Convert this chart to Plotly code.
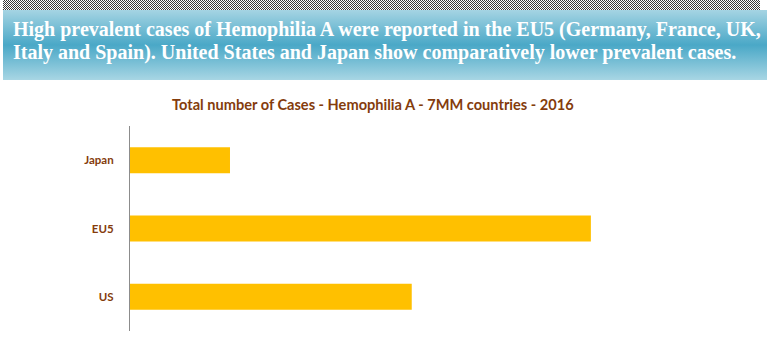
import base64
import plotly.graph_objects as go

# Hemophilia A total cases, 7MM, 2016
countries = ["US", "EU5", "Japan"]
cases = [17300, 28300, 6140]

header_lines = [
    "High prevalent cases of Hemophilia A were reported in the EU5 (Germany, France, UK,",
    "Italy and Spain). United States and Japan show comparatively lower prevalent cases.",
]
chart_title = "Total number of Cases - Hemophilia A - 7MM countries - 2016"

W, H = 771, 345
ML, MR, MT, MB = 130, 71, 126, 14
PW, PH = W - ML - MR, H - MT - MB

BROWN = "#843C0C"
BAR = "#FFC000"


def px_x(px):
    return (px - ML) / PW


def px_y(py):
    return (H - MB - py) / PH


# Banner graphic: dithered strip on top of a teal gradient box
svg = f"""<svg xmlns='http://www.w3.org/2000/svg' width='{W}' height='80' viewBox='0 0 {W} 80' shape-rendering='crispEdges'>
<defs>
<pattern id='chk' width='2' height='2' patternUnits='userSpaceOnUse'>
<rect x='0' y='0' width='2' height='2' fill='#ffffff'/>
<rect x='0' y='0' width='1' height='1' fill='#3a3a3a'/>
<rect x='1' y='1' width='1' height='1' fill='#3a3a3a'/>
</pattern>
<linearGradient id='tg' x1='0' y1='0' x2='0' y2='1'>
<stop offset='0' stop-color='#a5d4e3'/>
<stop offset='0.5' stop-color='#4aa8c7'/>
<stop offset='1' stop-color='#a8d6e4'/>
</linearGradient>
</defs>
<rect x='3' y='0' width='757' height='10' fill='url(#chk)'/>
<rect x='3' y='10' width='764' height='70' fill='url(#tg)'/>
</svg>"""
svg_uri = "data:image/svg+xml;base64," + base64.b64encode(svg.encode()).decode()

fig = go.Figure(
    go.Bar(
        x=cases,
        y=countries,
        orientation="h",
        marker=dict(color=BAR, line=dict(width=0)),
        hoverinfo="x+y",
    )
)

fig.add_layout_image(
    dict(
        source=svg_uri,
        xref="paper",
        yref="paper",
        x=px_x(0),
        y=px_y(0),
        sizex=W / PW,
        sizey=80 / PH,
        xanchor="left",
        yanchor="top",
        sizing="stretch",
        layer="below",
    )
)

for i, line in enumerate(header_lines):
    fig.add_annotation(
        text=f"<b>{line}</b>",
        xref="paper",
        yref="paper",
        x=px_x(11),
        y=px_y(29 + 24 * i),
        xanchor="left",
        yanchor="middle",
        showarrow=False,
        font=dict(family="Liberation Serif", size=20, color="#ffffff"),
    )

fig.add_annotation(
    text=f"<b>{chart_title}</b>",
    xref="paper",
    yref="paper",
    x=px_x(373),
    y=px_y(105),
    xanchor="center",
    yanchor="middle",
    showarrow=False,
    font=dict(family="Lato", size=14.6, color=BROWN),
)

fig.update_layout(
    width=W,
    height=H,
    margin=dict(l=ML, r=MR, t=MT, b=MB, pad=0),
    paper_bgcolor="#ffffff",
    plot_bgcolor="#ffffff",
    bargap=0.62,
    showlegend=False,
    xaxis=dict(
        range=[0, 35000],
        visible=False,
        showgrid=False,
        zeroline=False,
    ),
    yaxis=dict(
        type="category",
        showline=True,
        linecolor="#8c8c8c",
        linewidth=1,
        showgrid=False,
        zeroline=False,
        ticks="",
        ticklabelstandoff=13,
        tickfont=dict(family="Lato", size=11.5, color=BROWN, weight="bold"),
    ),
)

fig.write_html("out.html")
